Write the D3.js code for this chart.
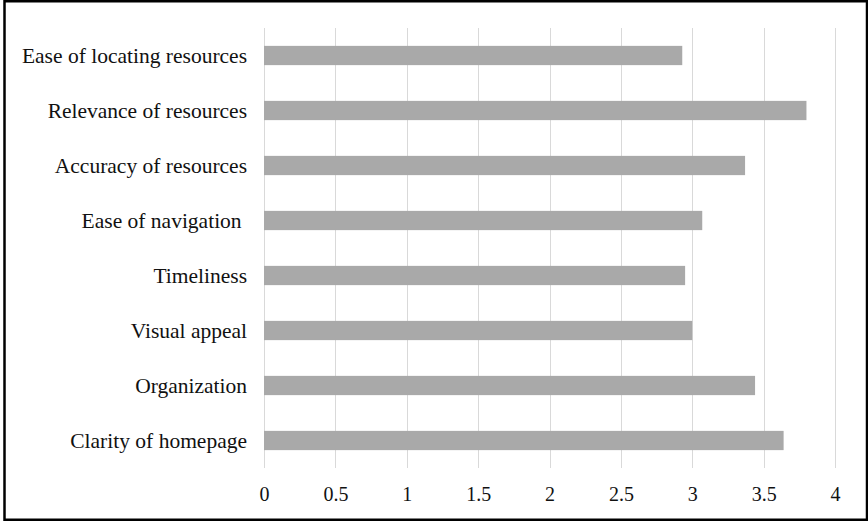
<!DOCTYPE html>
<html>
<head>
<meta charset="utf-8">
<script src="https://cdn.jsdelivr.net/npm/d3@7"></script>
<style>
  html, body { margin: 0; padding: 0; background: #fff; }
  svg { display: block; }
  text { font-family: "Liberation Serif", "Times New Roman", serif; fill: #111; white-space: pre; }
</style>
</head>
<body>
<div id="chart"></div>
<script>
const categories = [
  "Ease of locating resources",
  "Relevance of resources",
  "Accuracy of resources",
  "Ease of navigation ",
  "Timeliness",
  "Visual appeal",
  "Organization",
  "Clarity of homepage"
];
const values = [2.93, 3.80, 3.37, 3.07, 2.95, 3.00, 3.44, 3.64];
const xTicks = [0, 0.5, 1, 1.5, 2, 2.5, 3, 3.5, 4];
const xTickLabels = ["0", "0.5", "1", "1.5", "2", "2.5", "3", "3.5", "4"];

const W = 868, H = 521;
const margin = { left: 264, right: 33, top: 28, bottom: 53 };

const svg = d3.select("#chart").append("svg")
  .attr("width", W).attr("height", H);

svg.append("rect").attr("x", 0).attr("y", 0).attr("width", W).attr("height", H).attr("fill", "#fff");

const x = d3.scaleLinear().domain([0, 4]).range([margin.left, W - margin.right]);
const y = d3.scaleBand().domain(categories).range([margin.top, H - margin.bottom]).paddingInner(0.65).paddingOuter(0.325);

// gridlines
svg.append("g").selectAll("line").data(xTicks).join("line")
  .attr("x1", d => Math.round(x(d)) + 0.5).attr("x2", d => Math.round(x(d)) + 0.5)
  .attr("y1", margin.top).attr("y2", H - margin.bottom)
  .attr("stroke", "#d9d9d9").attr("stroke-width", 1);

// bars
svg.append("g").selectAll("rect").data(categories).join("rect")
  .attr("x", x(0))
  .attr("y", d => y(d))
  .attr("width", (d, i) => x(values[i]) - x(0))
  .attr("height", y.bandwidth())
  .attr("fill", "#a9a9a9");

// x axis labels
const xAxis = d3.axisBottom(x).tickValues(xTicks).tickFormat((d, i) => xTickLabels[i]).tickSize(0).tickPadding(0);
const gx = svg.append("g").attr("transform", `translate(0, ${H - margin.bottom})`).call(xAxis);
gx.select(".domain").remove();
gx.selectAll("text")
  .attr("y", 33).attr("dy", null)
  .style("font-family", '"Liberation Serif", "Times New Roman", serif')
  .style("font-size", "20px").attr("fill", "#111");

// y axis labels
const yAxis = d3.axisLeft(y).tickSize(0).tickPadding(0);
const gy = svg.append("g").attr("transform", `translate(247, 0)`).call(yAxis);
gy.select(".domain").remove();
gy.selectAll("text")
  .attr("x", 0).attr("dy", "7.5px")
  .style("font-family", '"Liberation Serif", "Times New Roman", serif')
  .style("font-size", "21.5px").attr("fill", "#111");

// outer frame
svg.append("rect").attr("x", 4.5).attr("y", 1.25).attr("width", 862.5).attr("height", 518.5)
  .attr("fill", "none").attr("stroke", "#000").attr("stroke-width", 2.5);
</script>
</body>
</html>
